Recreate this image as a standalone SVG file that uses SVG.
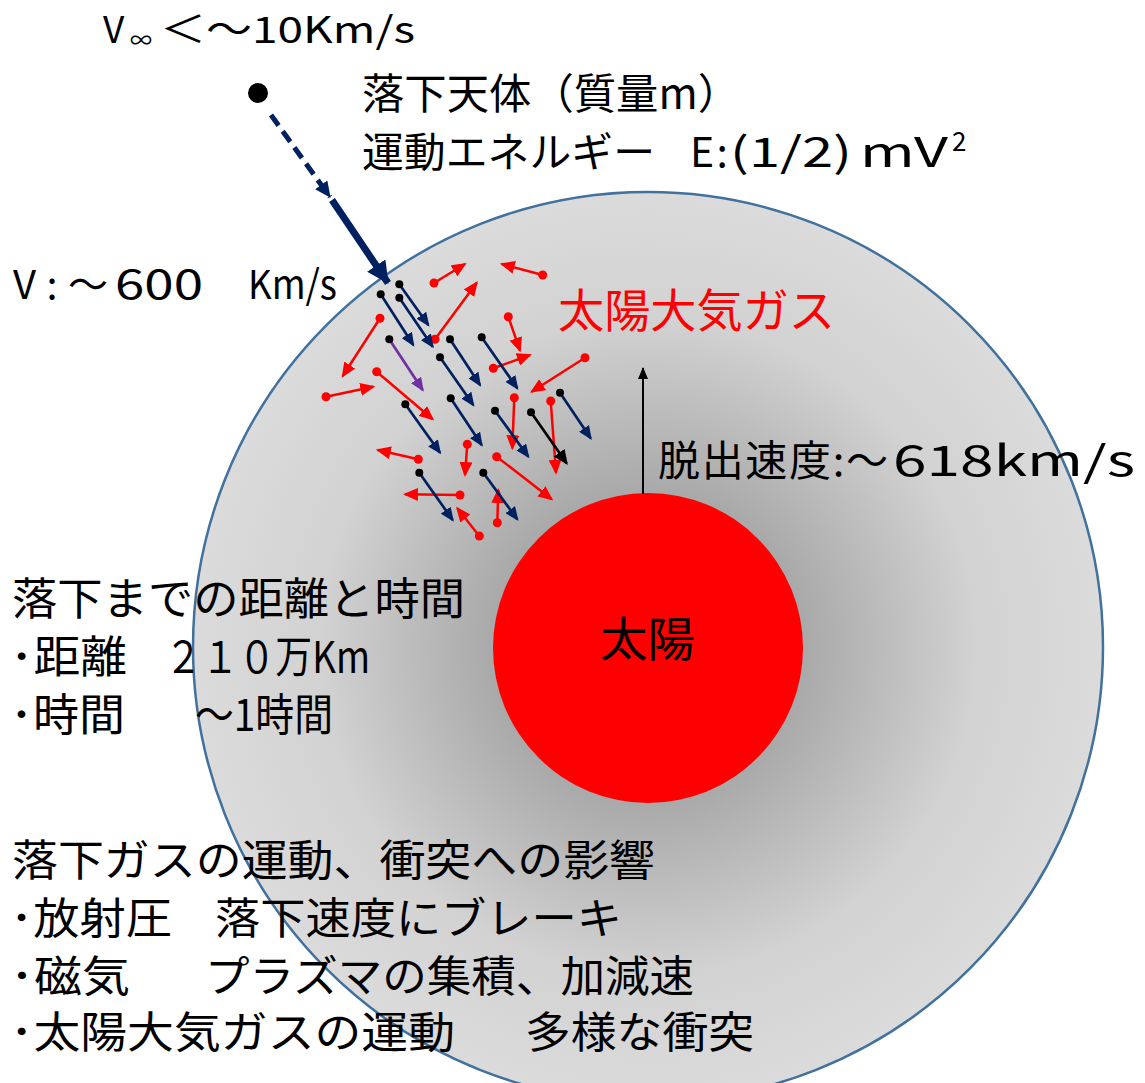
<svg xmlns="http://www.w3.org/2000/svg" width="1145" height="1083" viewBox="0 0 1145 1083">
  <style>
    .t { font-family: "Noto Sans CJK JP", "Noto Sans", sans-serif; fill: #000; }
    .red { fill: #ff0000; }
    .navy { stroke: #002060; stroke-width: 2.7; fill: none; }
    .gas { stroke: #ff0000; stroke-width: 2.5; fill: none; }
    .dotK { fill: #000; }
    .dotR { fill: #ff0000; }
  </style>
  <defs>
    <radialGradient id="corona" cx="648" cy="647" r="455" gradientUnits="userSpaceOnUse">
      <stop offset="0" stop-color="#8c8c8c"/>
      <stop offset="0.34" stop-color="#a9a9a9"/>
      <stop offset="0.72" stop-color="#d2d2d2"/>
      <stop offset="1" stop-color="#dbdbdb"/>
    </radialGradient>
    <marker id="hNavy" viewBox="0 0 14 12" refX="12" refY="6" markerWidth="14" markerHeight="12" markerUnits="userSpaceOnUse" orient="auto">
      <path d="M0,0 L14,6 L0,12 z" fill="#002060"/>
    </marker>
    <marker id="hRed" viewBox="0 0 15 13" refX="13" refY="6.5" markerWidth="15" markerHeight="13" markerUnits="userSpaceOnUse" orient="auto">
      <path d="M0,0 L15,6.5 L0,13 z" fill="#ff0000"/>
    </marker>
    <marker id="hPurple" viewBox="0 0 14 12" refX="12" refY="6" markerWidth="14" markerHeight="12" markerUnits="userSpaceOnUse" orient="auto">
      <path d="M0,0 L14,6 L0,12 z" fill="#7030a0"/>
    </marker>
    <marker id="hBlack" viewBox="0 0 15 13" refX="13" refY="6.5" markerWidth="15" markerHeight="13" markerUnits="userSpaceOnUse" orient="auto">
      <path d="M0,0 L15,6.5 L0,13 z" fill="#000"/>
    </marker>
    <marker id="hUp" viewBox="0 0 12 10" refX="11" refY="5" markerWidth="12" markerHeight="10" markerUnits="userSpaceOnUse" orient="auto">
      <path d="M0,0 L12,5 L0,10 z" fill="#000"/>
    </marker>
    <marker id="hDash" viewBox="0 0 16 15" refX="15" refY="7.5" markerWidth="16" markerHeight="15" markerUnits="userSpaceOnUse" orient="auto">
      <path d="M0,0 L16,7.5 L0,15 z" fill="#002060"/>
    </marker>
    <marker id="hBig" viewBox="0 0 22 22" refX="21" refY="11" markerWidth="22" markerHeight="22" markerUnits="userSpaceOnUse" orient="auto">
      <path d="M0,0 L22,11 L0,22 z" fill="#002060"/>
    </marker>
  </defs>

  <rect width="1145" height="1083" fill="#fff"/>

  <!-- solar atmosphere and the Sun -->
  <g id="atmosphere">
    <circle cx="648" cy="647" r="455" fill="url(#corona)" stroke="#41719c" stroke-width="2.5"/>
  </g>
  <g id="sun">
    <circle cx="648" cy="648" r="155" fill="#ff0000"/>
    <text class="t" x="600" y="656" font-size="47" textLength="95" lengthAdjust="spacingAndGlyphs">太陽</text>
  </g>

  <!-- infalling body -->
  <g id="body">
    <circle cx="258" cy="93" r="10" fill="#000"/>
  </g>

  <g id="connectors">
    <!-- approach path of the body -->
    <line x1="271" y1="115" x2="330" y2="197" stroke="#002060" stroke-width="5" stroke-dasharray="13 7" marker-end="url(#hDash)"/>
    <line x1="332" y1="200" x2="388" y2="283" stroke="#002060" stroke-width="7" marker-end="url(#hBig)"/>
    <!-- escape velocity -->
    <line x1="643" y1="494" x2="643" y2="368" stroke="#000" stroke-width="2" marker-end="url(#hUp)"/>

    <!-- solar gas motions -->
    <g class="gas" marker-end="url(#hRed)">
      <line x1="434" y1="283" x2="465" y2="264"/>
      <line x1="542.7" y1="275" x2="501.7" y2="264"/>
      <line x1="435" y1="339.3" x2="476.7" y2="282.7"/>
      <line x1="508.3" y1="316.7" x2="520" y2="350.7"/>
      <line x1="380" y1="318.3" x2="342.7" y2="376"/>
      <line x1="493.3" y1="368.3" x2="530" y2="355"/>
      <line x1="585" y1="357.7" x2="531.7" y2="391.7"/>
      <line x1="376.7" y1="371.7" x2="432.7" y2="419.3"/>
      <line x1="326" y1="396.7" x2="373.3" y2="386.7"/>
      <line x1="514.3" y1="397.7" x2="512.3" y2="448.3"/>
      <line x1="550.7" y1="401" x2="556" y2="472.7"/>
      <line x1="467.3" y1="444.3" x2="465" y2="475"/>
      <line x1="418.3" y1="459.3" x2="377.7" y2="450"/>
      <line x1="496.7" y1="456.7" x2="551.7" y2="499.3"/>
      <line x1="460" y1="495" x2="405" y2="494.3"/>
      <line x1="479.3" y1="536" x2="457.3" y2="508.3"/>
      <line x1="497.3" y1="522.7" x2="498.3" y2="490"/>
    </g>
    <g class="dotR">
      <circle cx="434" cy="283" r="4.5"/>
      <circle cx="542.7" cy="275" r="4.5"/>
      <circle cx="435" cy="339.3" r="4.5"/>
      <circle cx="508.3" cy="316.7" r="4.5"/>
      <circle cx="380" cy="318.3" r="4.5"/>
      <circle cx="493.3" cy="368.3" r="4.5"/>
      <circle cx="585" cy="357.7" r="4.5"/>
      <circle cx="376.7" cy="371.7" r="4.5"/>
      <circle cx="326" cy="396.7" r="4.5"/>
      <circle cx="514.3" cy="397.7" r="4.5"/>
      <circle cx="550.7" cy="401" r="4.5"/>
      <circle cx="467.3" cy="444.3" r="4.5"/>
      <circle cx="418.3" cy="459.3" r="4.5"/>
      <circle cx="496.7" cy="456.7" r="4.5"/>
      <circle cx="460" cy="495" r="4.5"/>
      <circle cx="479.3" cy="536" r="4.5"/>
      <circle cx="497.3" cy="522.7" r="4.5"/>
    </g>

    <!-- infalling gas fragments -->
    <g class="navy" marker-end="url(#hNavy)">
      <line x1="399.3" y1="284.3" x2="428.3" y2="325"/>
      <line x1="380.7" y1="294.3" x2="413.3" y2="345"/>
      <line x1="399.3" y1="297.7" x2="432.7" y2="346.7"/>
      <line x1="450" y1="339.3" x2="480" y2="385"/>
      <line x1="481.7" y1="337.3" x2="517.3" y2="388.3"/>
      <line x1="440" y1="357.3" x2="473.3" y2="405"/>
      <line x1="450.7" y1="398.3" x2="481.7" y2="445"/>
      <line x1="405.3" y1="404.3" x2="440" y2="452.7"/>
      <line x1="495" y1="410.7" x2="528.3" y2="456.7"/>
      <line x1="560" y1="392.7" x2="590.7" y2="438.3"/>
      <line x1="419.3" y1="472.7" x2="452.7" y2="520"/>
      <line x1="483.3" y1="472.7" x2="517.3" y2="519.3"/>
    </g>
    <line x1="389.3" y1="339.3" x2="422.7" y2="390" stroke="#7030a0" stroke-width="2.7" marker-end="url(#hPurple)"/>
    <line x1="531" y1="412.3" x2="566.7" y2="463.3" stroke="#000" stroke-width="2.7" marker-end="url(#hBlack)"/>
    <g class="dotK">
      <circle cx="399.3" cy="284.3" r="4"/>
      <circle cx="380.7" cy="294.3" r="4"/>
      <circle cx="399.3" cy="297.7" r="4"/>
      <circle cx="389.3" cy="339.3" r="4"/>
      <circle cx="450" cy="339.3" r="4"/>
      <circle cx="481.7" cy="337.3" r="4"/>
      <circle cx="440" cy="357.3" r="4"/>
      <circle cx="450.7" cy="398.3" r="4"/>
      <circle cx="405.3" cy="404.3" r="4"/>
      <circle cx="495" cy="410.7" r="4"/>
      <circle cx="531" cy="412.3" r="4"/>
      <circle cx="560" cy="392.7" r="4"/>
      <circle cx="419.3" cy="472.7" r="4"/>
      <circle cx="483.3" cy="472.7" r="4"/>
    </g>
  </g>

  <!-- labels -->
  <g id="label-vinf">
    <text class="t" x="103" y="43" font-size="37">V</text>
    <text class="t" x="130" y="48" font-size="22">∞</text>
    <text class="t" x="160" y="43" font-size="37" textLength="255" lengthAdjust="spacingAndGlyphs">＜～10Km/s</text>
  </g>
  <g id="label-body">
    <text class="t" x="362" y="109" font-size="42" textLength="378" lengthAdjust="spacingAndGlyphs">落下天体（質量m）</text>
    <text class="t" x="362" y="167" font-size="41" textLength="293" lengthAdjust="spacingAndGlyphs">運動エネルギー</text>
    <text class="t" x="690" y="167" font-size="41" textLength="38" lengthAdjust="spacing">E:</text>
    <text class="t" x="730" y="167" font-size="41" textLength="122" lengthAdjust="spacingAndGlyphs">(1/2)</text>
    <text class="t" x="860" y="167" font-size="41" textLength="88" lengthAdjust="spacingAndGlyphs">mV</text>
    <text class="t" x="952" y="151" font-size="26">2</text>
  </g>
  <g id="label-v">
    <text class="t" x="13" y="299" font-size="40" textLength="95" lengthAdjust="spacing">V:～</text>
    <text class="t" x="115" y="299" font-size="40" textLength="88" lengthAdjust="spacingAndGlyphs">600</text>
    <text class="t" x="248" y="299" font-size="40" textLength="89" lengthAdjust="spacingAndGlyphs">Km/s</text>
  </g>
  <g id="label-gas">
    <text class="t red" x="558" y="327" font-size="46" textLength="277" lengthAdjust="spacingAndGlyphs">太陽大気ガス</text>
  </g>
  <g id="label-escape">
    <text class="t" x="658" y="476" font-size="42" textLength="230" lengthAdjust="spacing">脱出速度:～</text>
    <text class="t" x="893" y="476" font-size="42" textLength="242" lengthAdjust="spacingAndGlyphs">618km/s</text>
  </g>
  <g id="label-distance">
    <text class="t" x="12" y="615" font-size="44" textLength="453" lengthAdjust="spacingAndGlyphs">落下までの距離と時間</text>
    <text class="t" x="10" y="673" font-size="44" textLength="117" lengthAdjust="spacingAndGlyphs">･距離</text>
    <text class="t" x="165" y="673" font-size="44" textLength="205" lengthAdjust="spacingAndGlyphs">２１０万Km</text>
    <text class="t" x="10" y="731" font-size="44" textLength="115" lengthAdjust="spacingAndGlyphs">･時間</text>
    <text class="t" x="195" y="731" font-size="44" textLength="138" lengthAdjust="spacingAndGlyphs">～1時間</text>
  </g>
  <g id="label-effects">
    <text class="t" x="12" y="876" font-size="43" textLength="643" lengthAdjust="spacingAndGlyphs">落下ガスの運動、衝突への影響</text>
    <text class="t" x="10" y="934" font-size="43" textLength="162" lengthAdjust="spacingAndGlyphs">･放射圧</text>
    <text class="t" x="215" y="934" font-size="43" textLength="407" lengthAdjust="spacingAndGlyphs">落下速度にブレーキ</text>
    <text class="t" x="10" y="992" font-size="43" textLength="120" lengthAdjust="spacingAndGlyphs">･磁気</text>
    <text class="t" x="205" y="992" font-size="43" textLength="489" lengthAdjust="spacingAndGlyphs">プラズマの集積、加減速</text>
    <text class="t" x="10" y="1048" font-size="43" textLength="445" lengthAdjust="spacingAndGlyphs">･太陽大気ガスの運動</text>
    <text class="t" x="525" y="1048" font-size="43" textLength="229" lengthAdjust="spacingAndGlyphs">多様な衝突</text>
  </g>
</svg>
